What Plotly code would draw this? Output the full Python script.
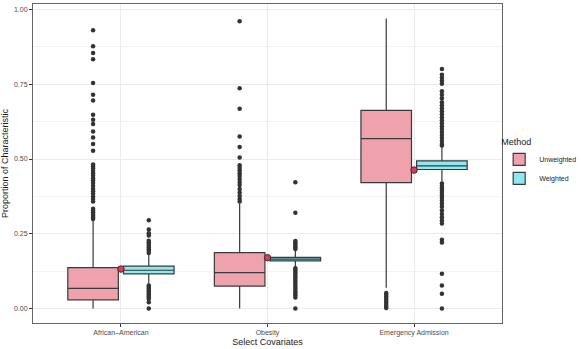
import plotly.graph_objects as go

# ---- data ----
CATEGORIES = ["African\u2013American", "Obesity", "Emergency Admission"]
METHODS = ["Unweighted", "Weighted"]

UNW_Q1 = [0.029, 0.075, 0.421]
UNW_MED = [0.067, 0.120, 0.568]
UNW_Q3 = [0.137, 0.187, 0.663]
UNW_LO = [0.0, 0.0, 0.069]
UNW_HI = [0.298, 0.351, 0.970]

WT_Q1 = [0.116, 0.159, 0.465]
WT_MED = [0.128, 0.165, 0.477]
WT_Q3 = [0.142, 0.171, 0.494]
WT_LO = [0.083, 0.139, 0.424]
WT_HI = [0.180, 0.195, 0.541]

UNW_OUT = [
    [0.931, 0.877, 0.855, 0.834, 0.754, 0.715, 0.696, 0.648, 0.631, 0.617, 0.592,
     0.572, 0.550, 0.528, 0.482, 0.475, 0.468, 0.460, 0.452, 0.444, 0.436, 0.428,
     0.420, 0.410, 0.400, 0.392, 0.384, 0.375, 0.366, 0.358, 0.334, 0.328, 0.322,
     0.316, 0.310, 0.304, 0.299],
    [0.961, 0.737, 0.668, 0.575, 0.540, 0.505, 0.479, 0.470, 0.462, 0.452, 0.443,
     0.433, 0.423, 0.413, 0.400, 0.388, 0.376, 0.366, 0.358],
    [0.052, 0.046, 0.040, 0.033, 0.026, 0.019, 0.012, 0.006, 0.002],
]
WT_OUT = [
    [0.295, 0.264, 0.252, 0.244, 0.227, 0.222, 0.216, 0.210, 0.204, 0.198, 0.192,
     0.186, 0.077, 0.072, 0.067, 0.062, 0.057, 0.052, 0.047, 0.042, 0.037, 0.032,
     0.021, 0.0],
    [0.422, 0.320, 0.226, 0.221, 0.216, 0.210, 0.204, 0.199, 0.135, 0.128, 0.121,
     0.114, 0.107, 0.100, 0.093, 0.086, 0.079, 0.072, 0.065, 0.058, 0.051, 0.044,
     0.037, 0.0],
    [0.801, 0.782, 0.772, 0.762, 0.752, 0.727, 0.715, 0.703, 0.690, 0.680, 0.670,
     0.660, 0.650, 0.640, 0.630, 0.620, 0.610, 0.600, 0.590, 0.580, 0.570, 0.560,
     0.550, 0.545, 0.418, 0.410, 0.402, 0.394, 0.386, 0.378, 0.370, 0.360, 0.350,
     0.340, 0.328, 0.316, 0.305, 0.294, 0.284, 0.230, 0.221, 0.116, 0.077, 0.049,
     0.0],
]
TARGET = [0.132, 0.170, 0.463]

# ---- style ----
FILLS = {"Unweighted": "#EDA2AC", "Weighted": "#8EE8F1"}
OUTLINE = "#3a3a3a"
DOT = "#333333"
GRID = "#EBEBEB"
FONT = "Liberation Sans, Arial, sans-serif"
DODGE = 0.19
BOX_W = 0.345

stats = {
    "Unweighted": (UNW_Q1, UNW_MED, UNW_Q3, UNW_LO, UNW_HI, UNW_OUT, -DODGE),
    "Weighted": (WT_Q1, WT_MED, WT_Q3, WT_LO, WT_HI, WT_OUT, DODGE),
}

fig = go.Figure()
for m in METHODS:
    q1, med, q3, lo, hi, outs, off = stats[m]
    for i, cat in enumerate(CATEGORIES):
        pos = i + 1 + off
        fig.add_trace(go.Box(
            x=[pos], q1=[q1[i]], median=[med[i]], q3=[q3[i]],
            lowerfence=[lo[i]], upperfence=[hi[i]],
            width=BOX_W, whiskerwidth=0, boxpoints=False,
            fillcolor=FILLS[m], line=dict(color=OUTLINE, width=1.2),
            name=m, legendgroup=m, showlegend=(i == 0),
            hoverinfo="skip",
        ))
        fig.add_trace(go.Scatter(
            x=[pos] * len(outs[i]), y=outs[i], mode="markers",
            marker=dict(color=DOT, size=4.5),
            showlegend=False, hoverinfo="skip",
        ))

fig.add_trace(go.Scatter(
    x=[1, 2, 3], y=TARGET, mode="markers",
    marker=dict(color="#DC3A58", size=6.5, line=dict(color="#333333", width=1)),
    showlegend=False, hoverinfo="skip",
))

fig.update_layout(
    width=581, height=349,
    template="none",
    paper_bgcolor="white", plot_bgcolor="white",
    font=dict(family=FONT, color="#4d4d4d", size=7),
    margin=dict(l=33, r=79, t=4, b=26, autoexpand=False),
    legend=dict(
        title=dict(text="Method", font=dict(size=9, color="#1a1a1a")),
        x=0.994, xanchor="left", y=0.595, yanchor="top",
        font=dict(size=7, color="#1a1a1a"),
        tracegroupgap=0, itemwidth=30,
        bgcolor="rgba(0,0,0,0)",
    ),
)
fig.update_xaxes(
    range=[0.4, 3.6],
    tickvals=[1, 2, 3], ticktext=CATEGORIES,
    showgrid=True, gridcolor=GRID, gridwidth=1,
    zeroline=False,
    ticks="outside", ticklen=3, tickcolor="#333333",
    showline=True, mirror=True, linecolor="#666666", linewidth=1,
    title=dict(text="Select Covariates", font=dict(size=9, color="#1a1a1a"), standoff=0),
)
fig.update_yaxes(
    range=[-0.0485, 1.0185],
    tickvals=[0, 0.25, 0.5, 0.75, 1.0],
    ticktext=["0.00", "0.25", "0.50", "0.75", "1.00"],
    showgrid=True, gridcolor=GRID, gridwidth=1,
    minor=dict(tickvals=[0.125, 0.375, 0.625, 0.875], showgrid=True,
               gridcolor="#F3F3F3", gridwidth=0.6, ticks=""),
    zeroline=False,
    ticks="outside", ticklen=3, tickcolor="#333333",
    showline=True, mirror=True, linecolor="#666666", linewidth=1,
    title=dict(text="Proportion of Characteristic", font=dict(size=9, color="#1a1a1a"), standoff=5),
)

# the page's default body margin would push the fixed-size figure off the window
fig.write_html(
    "out.html",
    config={"displayModeBar": False},
    post_script="document.body.style.margin='0';",
)
